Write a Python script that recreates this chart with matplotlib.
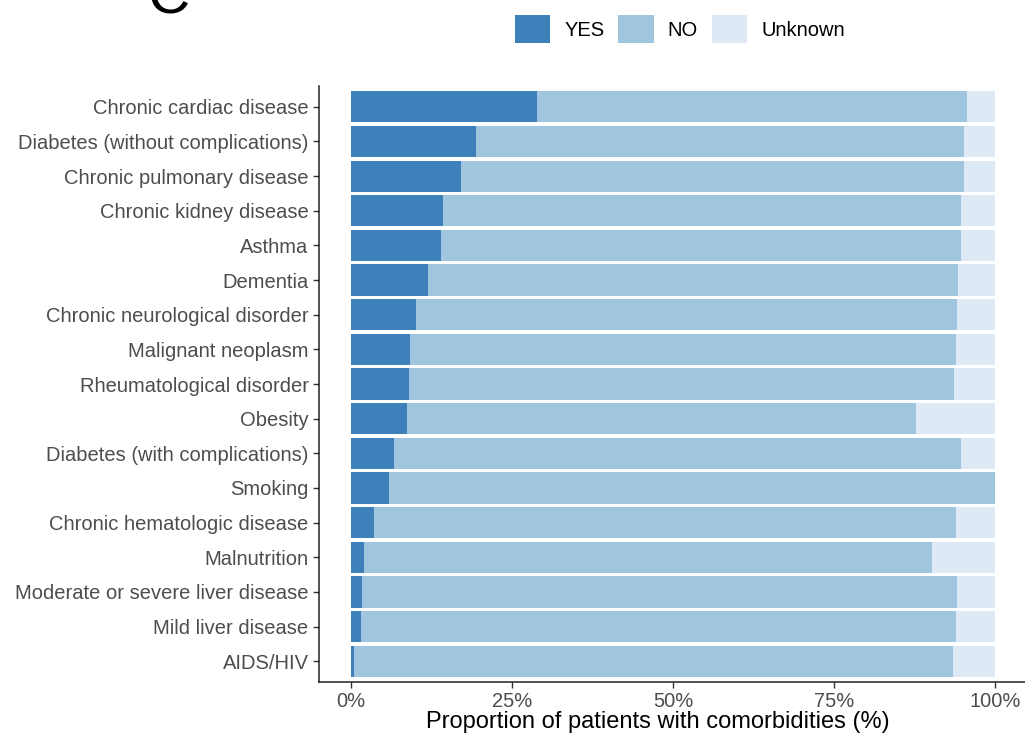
import numpy as np
import matplotlib
matplotlib.use("Agg")
import matplotlib.pyplot as plt
from matplotlib.patches import Patch

plt.rcParams["font.family"] = ["Liberation Sans", "DejaVu Sans"]

# comorbidities, top to bottom
conditions = [
    "Chronic cardiac disease",
    "Diabetes (without complications)",
    "Chronic pulmonary disease",
    "Chronic kidney disease",
    "Asthma",
    "Dementia",
    "Chronic neurological disorder",
    "Malignant neoplasm",
    "Rheumatological disorder",
    "Obesity",
    "Diabetes (with complications)",
    "Smoking",
    "Chronic hematologic disease",
    "Malnutrition",
    "Moderate or severe liver disease",
    "Mild liver disease",
    "AIDS/HIV",
]

# percentages of patients
yes_pct = [28.8, 19.4, 17.0, 14.3, 13.9, 11.9, 10.0, 9.2, 9.0, 8.7,
           6.7, 5.8, 3.5, 2.0, 1.7, 1.6, 0.4]
no_pct = [66.9, 75.8, 78.2, 80.5, 80.9, 82.4, 84.2, 84.7, 84.7, 79.0,
          88.1, 94.2, 90.4, 88.2, 92.4, 92.3, 93.1]
unknown_pct = [4.3, 4.8, 4.8, 5.2, 5.2, 5.7, 5.8, 6.1, 6.3, 12.3,
               5.2, 0.0, 6.1, 9.8, 5.9, 6.1, 6.5]

groups = ["YES", "NO", "Unknown"]
colors = ["#3d80ba", "#a0c6df", "#dde9f4"]

yes = np.array(yes_pct)
no = np.array(no_pct)
unk = np.array(unknown_pct)
ypos = np.arange(len(conditions))

fig = plt.figure(figsize=(10.25, 7.38), dpi=100)
ax = fig.add_axes([319 / 1025, 1 - 682 / 738, 708 / 1025, (682 - 86) / 738])

ax.barh(ypos, yes, height=0.9, color=colors[0], linewidth=0)
ax.barh(ypos, no, left=yes, height=0.9, color=colors[1], linewidth=0)
ax.barh(ypos, unk, left=yes + no, height=0.9, color=colors[2], linewidth=0)

ax.set_xlim(-5, 105)
ax.set_ylim(len(conditions) - 0.4, -0.6)
ax.set_yticks(ypos)
ax.set_yticklabels(conditions)
ax.set_xticks([0, 25, 50, 75, 100])
ax.set_xticklabels(["0%", "25%", "50%", "75%", "100%"])

for s in ["top", "right"]:
    ax.spines[s].set_visible(False)
for s in ["left", "bottom"]:
    ax.spines[s].set_linewidth(1.1)
    ax.spines[s].set_color("#222222")

ax.tick_params(axis="both", length=4.5, width=1.0, color="#333333",
               labelsize=14.5, labelcolor="#4d4d4d", pad=3)
ax.set_xlabel("Proportion of patients with comorbidities (%)", fontsize=17,
              color="black")
ax.xaxis.set_label_coords((658 - 319) / 708, -0.048)

handles = [Patch(facecolor=c, edgecolor="none") for c in colors]
fig.legend(handles, groups, loc="center", bbox_to_anchor=(680 / 1025, 1 - 29 / 738),
           ncol=3, frameon=False, fontsize=14.5, handlelength=1.75, handleheight=1.75,
           handletextpad=0.7, columnspacing=0.7, borderpad=0)

# panel letter, clipped at the top edge
fig.text(169 / 1025, 1 - 14 / 738, "C", fontsize=42, ha="center", va="baseline")

fig.savefig("out.png", dpi=100)
